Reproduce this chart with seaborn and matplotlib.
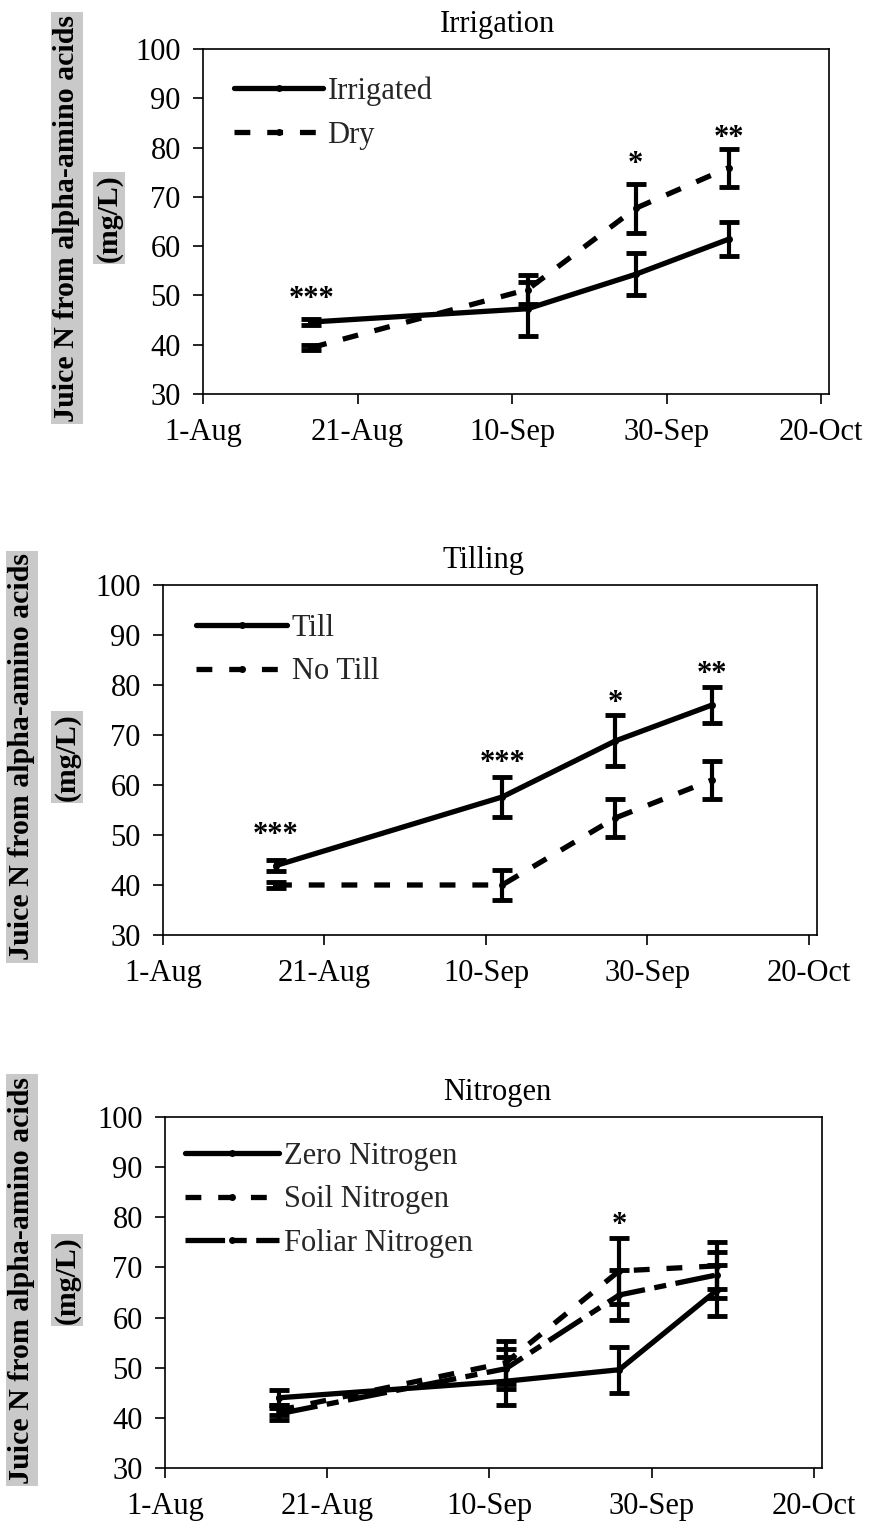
import numpy as np
import pandas as pd
import matplotlib
matplotlib.use("Agg")
import matplotlib.pyplot as plt
import matplotlib.dates as mdates
import seaborn as sns

# ---------------- data ----------------
sample_dates = ["2000-08-15", "2000-09-12", "2000-09-26", "2000-10-08"]
tick_dates = ["2000-08-01", "2000-08-21", "2000-09-10", "2000-09-30", "2000-10-20"]

irrigated = [44.6, 47.3, 54.3, 61.4]
irrigated_err = [0.7, 5.5, 4.3, 3.4]
dry = [39.4, 51.2, 67.7, 75.9]
dry_err = [0.5, 3.0, 5.0, 3.9]

till = [43.9, 57.6, 68.8, 76.0]
till_err = [1.0, 4.0, 5.1, 3.6]
no_till = [40.0, 40.0, 53.4, 61.0]
no_till_err = [0.5, 3.0, 3.8, 3.8]

zero_n = [44.0, 47.3, 49.6, 65.4]
zero_n_err = [1.5, 4.8, 4.6, 5.0]
soil_n = [41.5, 51.0, 69.3, 70.3]
soil_n_err = [1.0, 4.3, 6.5, 4.7]
foliar_n = [40.8, 49.8, 64.5, 68.5]
foliar_n_err = [1.2, 4.0, 5.0, 4.5]

irr_stars = ["***", "", "*", "**"]
irr_star_y = [49.2, None, 76.5, 81.9]
till_stars = ["***", "***", "*", "**"]
till_star_y = [49.9, 64.3, 76.3, 82.1]
nit_stars = ["", "", "*", ""]
nit_star_y = [None, None, 78.4, None]

titles = ["Irrigation", "Tilling", "Nitrogen"]
ylabel1 = "Juice N from alpha-amino acids"
ylabel2 = "(mg/L)"
yticks = [30, 40, 50, 60, 70, 80, 90, 100]

# ---------------- style ----------------
sns.set_theme(style="white")
plt.rcParams["font.family"] = ["Liberation Serif", "DejaVu Serif"]

W, H = 874, 1531
fig = plt.figure(figsize=(W / 100, H / 100), dpi=100)

def fx(px):
    return px / W

def fy(py):
    return 1 - py / H

SOLID = ""
DASH = (3.0, 3.2)
DASHDOT = (7.5, 1.8, 2.3, 1.8)

dates = pd.to_datetime(sample_dates)
tdates = pd.to_datetime(tick_dates)


def panel(rect, title, title_x, names, vals, errs, dashes, stars, star_y,
          leg_anchor, leg_hl):
    ax = fig.add_axes(rect)
    rows = []
    for n, v in zip(names, vals):
        for d, val in zip(dates, v):
            rows.append({"date": d, "value": val, "series": n})
    df = pd.DataFrame(rows)
    sns.lineplot(data=df, x="date", y="value", style="series",
                 style_order=names,
                 dashes={n: ds for n, ds in zip(names, dashes)},
                 markers={n: "o" for n in names},
                 color="black", linewidth=3.8, markersize=5,
                 markeredgewidth=0, ax=ax, legend=True)
    for v, e in zip(vals, errs):
        ax.errorbar(dates, v, yerr=e, fmt="none", ecolor="black",
                    elinewidth=3, capsize=7.5, capthick=3.5, zorder=4)
    for d, s, y in zip(dates, stars, star_y):
        if s:
            ax.text(d, y, s, ha="center", va="center", fontsize=22,
                    fontweight="bold", color="black")
    ax.set_xlim(pd.Timestamp("2000-08-01"), pd.Timestamp("2000-10-21"))
    ax.set_ylim(30, 100)
    ax.set_yticks(yticks)
    ax.set_xticks(tdates)
    ax.xaxis.set_major_formatter(mdates.DateFormatter("%-d-%b"))
    ax.set_xlabel("")
    ax.set_ylabel("")
    ax.tick_params(axis="both", which="major", bottom=True, left=True,
                   direction="out", length=7, width=1.2, colors="black",
                   labelsize=22)
    ax.tick_params(axis="x", pad=10)
    ax.tick_params(axis="y", pad=9)
    for sp in ax.spines.values():
        sp.set_visible(True)
        sp.set_color("black")
        sp.set_linewidth(1.2)
    ax.set_title(title, fontsize=22, x=title_x, pad=12, color="black")
    handles, labels = ax.get_legend_handles_labels()
    ax.legend(handles, labels, loc="upper left", bbox_to_anchor=leg_anchor,
              frameon=False, fontsize=22, handlelength=leg_hl,
              handletextpad=0.15, labelspacing=0.48, borderpad=0,
              borderaxespad=0)
    return ax


# panel 1
panel([fx(203), fy(394), fx(829 - 203), (394 - 49) / H],
      titles[0], 0.47, ["Irrigated", "Dry"], [irrigated, dry],
      [irrigated_err, dry_err], [SOLID, DASH], irr_stars, irr_star_y,
      (0.05, 0.92), 2.9)
# panel 2
panel([fx(163), fy(935), fx(817 - 163), (935 - 585) / H],
      titles[1], 0.49, ["Till", "No Till"], [till, no_till],
      [till_err, no_till_err], [SOLID, DASH], till_stars, till_star_y,
      (0.05, 0.918), 3.0)
# panel 3
panel([fx(165), fy(1468), fx(822 - 165), (1468 - 1117) / H],
      titles[2], 0.505, ["Zero Nitrogen", "Soil Nitrogen", "Foliar Nitrogen"],
      [zero_n, soil_n, foliar_n], [zero_n_err, soil_n_err, foliar_n_err],
      [SOLID, DASH, DASHDOT], nit_stars, nit_star_y, (0.03, 0.93), 3.1)

# y labels with gray background
lab_kw = dict(rotation=90, ha="center", va="center", fontsize=21.5,
              fontweight="bold", color="black",
              bbox=dict(boxstyle="square,pad=0.08", fc="#c9c9c9", ec="none"))
for x1, x2, yc in [(67, 109, 218), (22, 67, 757), (22, 67, 1280)]:
    fig.text(fx(x1), fy(yc), ylabel1, **lab_kw)
    fig.text(fx(x2), fy(yc), ylabel2, **lab_kw)

fig.savefig("out.png", dpi=100, facecolor="white")
